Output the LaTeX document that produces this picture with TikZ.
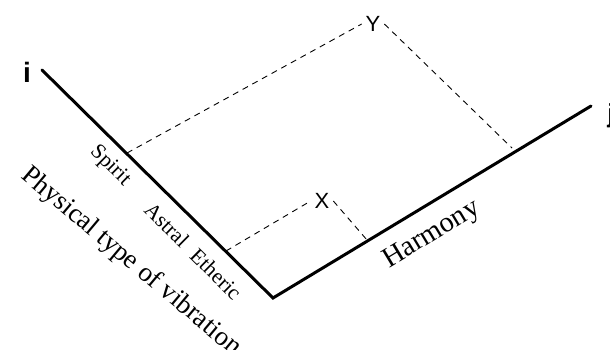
\documentclass[tikz,border=0pt]{standalone}
\usepackage{fontspec}
\setmainfont{Liberation Serif}
\newfontfamily\axisfont{Liberation Sans}
\usetikzlibrary{positioning, calc}

\begin{document}
\begin{tikzpicture}[x=1pt, y=-1pt,
    axis/.style={line width=3pt, line cap=round},
    proj/.style={dashed, line width=0.9pt, dash pattern=on 6pt off 5pt},
    tag/.style={font=\fontsize{21.5}{21.5}\selectfont, inner sep=0pt},
    title/.style={font=\fontsize{27}{27}\selectfont, inner sep=0pt},
    letter/.style={font=\axisfont\fontsize{22}{22}\selectfont, inner sep=0pt, outer sep=4pt}
]
    \useasboundingbox (0,0) rectangle (610,350);

    % Axes
    \coordinate (O) at (273,298);
    \coordinate (iend) at (42,70);
    \coordinate (jend) at (591,106);
    \draw[axis] (iend) -- (O) -- (jend);
    \node[letter, font=\axisfont\bfseries\fontsize{28}{28}\selectfont] (ilabel) at (27,72) {i};
    \node[letter, font=\axisfont\bfseries\fontsize{26}{26}\selectfont] (jlabel) at (611,116) {j};

    % Points on the axes
    \coordinate (spiritpt) at (127,153);
    \coordinate (ethericpt) at (226,251);
    \coordinate (ypt) at (512,148);
    \coordinate (xpt) at (367,240);

    % Projections
    \node[letter] (Y) at (373,24) {Y};
    \node[letter] (X) at (322,201) {X};
    \draw[proj] (spiritpt) -- (Y.west);
    \draw[proj] (Y.east) -- (ypt);
    \draw[proj] (ethericpt) -- (X.west);
    \draw[proj] (X.east) -- (xpt);

    % Labels
    \node[tag, rotate=-44.6] (spirit) at (110,166) {Spirit};
    \node[tag, rotate=-44.6] (astral) at (167,225) {Astral};
    \node[tag, rotate=-44.6] (etheric) at (216,274) {Etheric};
    \node[title, rotate=-40] (physical) at (131,262) {Physical type of vibration};
    \node[title, font=\fontsize{28.5}{28.5}\selectfont, rotate=31.1] (harmony) at (432,235) {Harmony};
\end{tikzpicture}
\end{document}
